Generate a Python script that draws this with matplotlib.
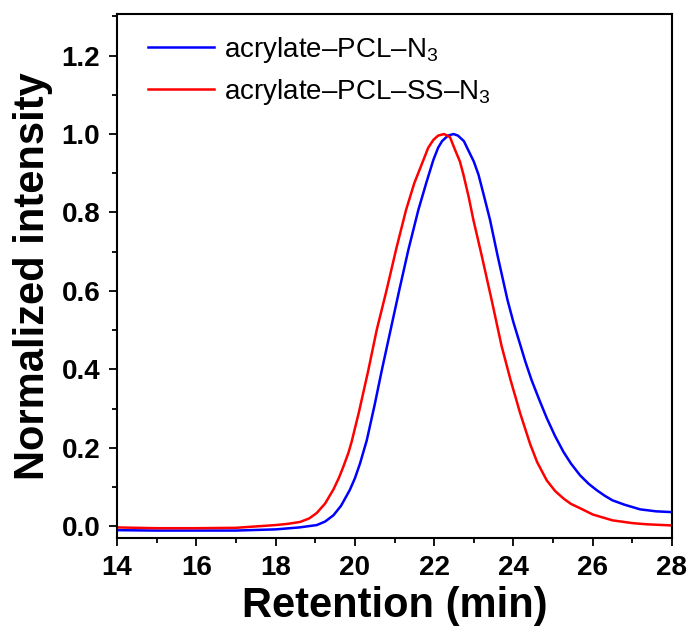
import matplotlib
matplotlib.use('Agg')
from matplotlib import pyplot as plt
from matplotlib.ticker import MultipleLocator

plt.rcParams['font.family'] = ['Liberation Sans', 'DejaVu Sans']
plt.rcParams['mathtext.fontset'] = 'custom'
plt.rcParams['mathtext.rm'] = 'Liberation Sans'
plt.rcParams['mathtext.it'] = 'Liberation Sans'

# retention time (min) and normalized intensity
pcl_x = [14.0, 15.0, 16.0, 17.0, 18.0, 18.6, 19.04, 19.25, 19.46, 19.65, 19.87,
         20.0, 20.13, 20.3, 20.5, 20.68, 20.9, 21.12, 21.35, 21.6, 21.8, 21.98,
         22.1, 22.2, 22.35, 22.49, 22.6, 22.75, 22.86, 23.0, 23.12, 23.25,
         23.41, 23.6, 23.85, 24.0, 24.15, 24.3, 24.46, 24.65, 24.84, 25.05,
         25.26, 25.45, 25.68, 25.9, 26.1, 26.3, 26.5, 26.8, 27.2, 27.6, 28.0]
pcl_y = [-0.010, -0.011, -0.011, -0.011, -0.008, -0.003, 0.003, 0.012, 0.028,
         0.052, 0.092, 0.122, 0.160, 0.219, 0.310, 0.398, 0.500, 0.602, 0.705,
         0.806, 0.875, 0.934, 0.965, 0.982, 0.996, 1.000, 0.996, 0.982, 0.959,
         0.930, 0.896, 0.845, 0.781, 0.690, 0.577, 0.520, 0.470, 0.420, 0.372,
         0.323, 0.276, 0.230, 0.190, 0.160, 0.130, 0.108, 0.092, 0.078, 0.066,
         0.055, 0.043, 0.038, 0.036]

pcl_ss_x = [14.0, 15.0, 16.0, 17.0, 18.0, 18.3, 18.62, 18.85, 19.04, 19.25,
            19.46, 19.6, 19.71, 19.84, 19.92, 20.1, 20.34, 20.55, 20.8, 21.05,
            21.29, 21.5, 21.73, 21.85, 21.98, 22.1, 22.25, 22.4, 22.53, 22.65,
            22.74, 22.87, 22.99, 23.2, 23.45, 23.7, 23.93, 24.05, 24.17, 24.42,
            24.6, 24.84, 25.05, 25.26, 25.45, 25.68, 26.0, 26.5, 27.0, 27.36,
            28.0]
pcl_ss_y = [-0.003, -0.005, -0.005, -0.004, 0.003, 0.006, 0.011, 0.020, 0.034,
            0.058, 0.094, 0.124, 0.152, 0.188, 0.216, 0.290, 0.398, 0.500,
            0.602, 0.710, 0.806, 0.875, 0.934, 0.965, 0.985, 0.996, 1.000,
            0.992, 0.959, 0.930, 0.896, 0.840, 0.781, 0.690, 0.577, 0.460,
            0.372, 0.330, 0.288, 0.210, 0.163, 0.117, 0.090, 0.071, 0.057,
            0.046, 0.030, 0.015, 0.008, 0.005, 0.002]

labels = ['acrylate\u2013PCL\u2013N$_3$', 'acrylate\u2013PCL\u2013SS\u2013N$_3$']

fig = plt.figure(figsize=(6.9, 6.37), dpi=100)
ax = fig.add_axes([0.1696, 0.1554, 0.8043, 0.8226])

ax.plot(pcl_x, pcl_y, color='#0000ff', lw=1.8, label=labels[0])
ax.plot(pcl_ss_x, pcl_ss_y, color='#ff0000', lw=1.8, label=labels[1])

ax.set_xlim(14, 28)
ax.set_ylim(-0.03, 1.306)
ax.xaxis.set_major_locator(MultipleLocator(2))
ax.xaxis.set_minor_locator(MultipleLocator(1))
ax.yaxis.set_major_locator(MultipleLocator(0.2))
ax.yaxis.set_minor_locator(MultipleLocator(0.1))

for s in ax.spines.values():
    s.set_linewidth(1.5)
ax.tick_params(which='both', direction='out', top=False, right=False, width=1.3)
ax.tick_params(which='major', length=6, pad=6, labelsize=20)
ax.tick_params(which='minor', length=3.5)
for t in ax.get_xticklabels() + ax.get_yticklabels():
    t.set_fontweight('bold')

ax.set_xlabel('Retention (min)', fontsize=30, fontweight='bold', labelpad=4)
ax.set_ylabel('Normalized intensity', fontsize=30, fontweight='bold', labelpad=6)

ax.legend(loc='upper left', bbox_to_anchor=(0.055, 0.96), frameon=False,
          fontsize=20, handlelength=2.4, handletextpad=0.35, labelspacing=0.42,
          borderpad=0, borderaxespad=0)

fig.savefig('out.png', dpi=100)
